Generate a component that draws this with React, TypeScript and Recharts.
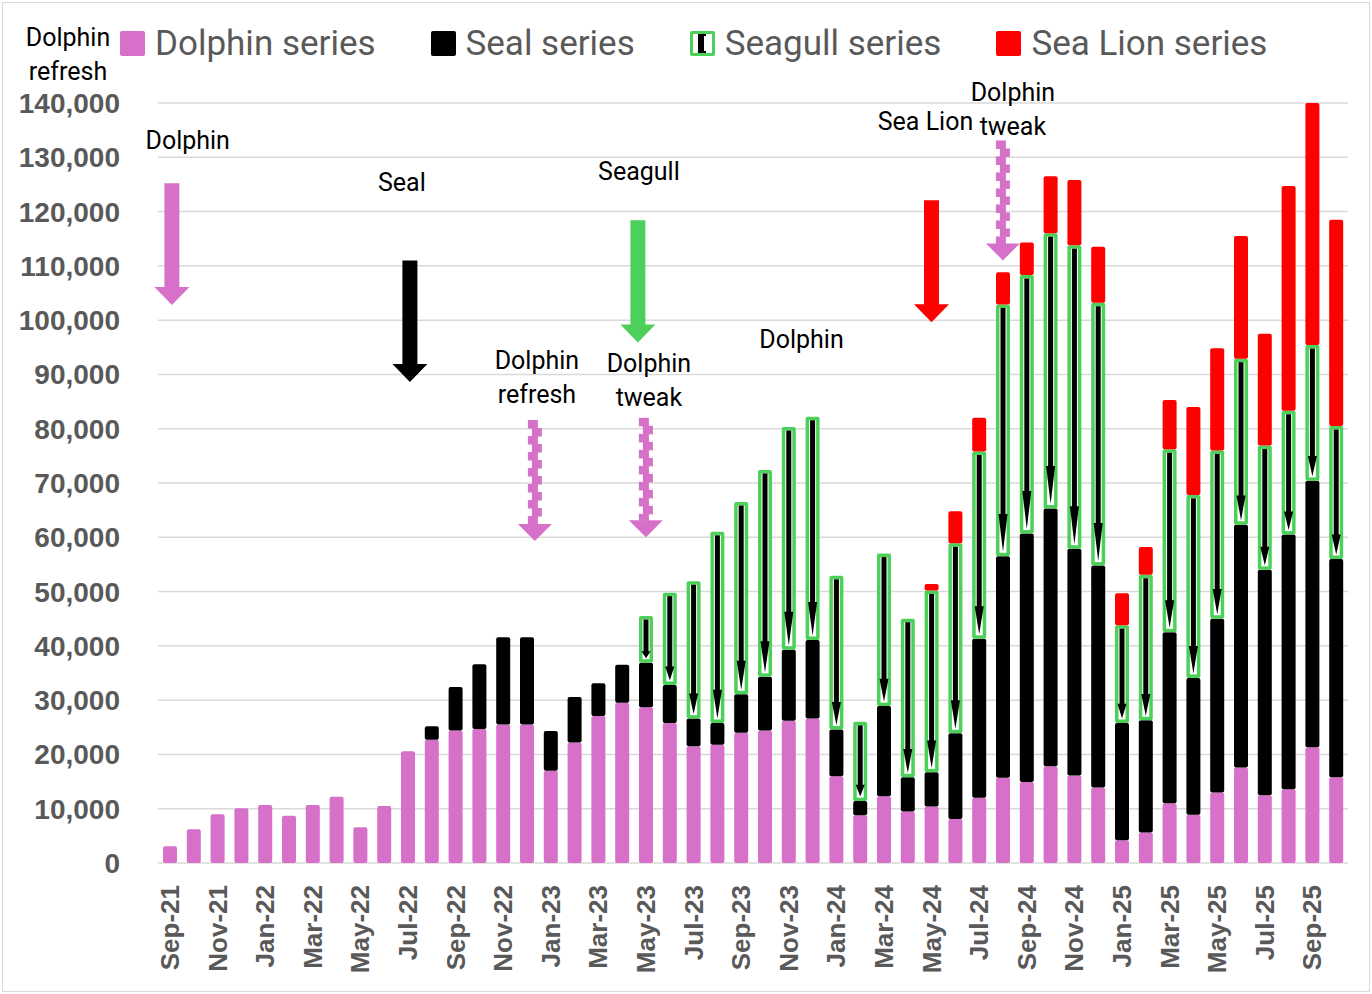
import React from "react";
import { BarChart, Bar, XAxis, YAxis, CartesianGrid, ReferenceLine, ReferenceDot } from "recharts";

const MONTHS = [
  "Sep-21", "Oct-21", "Nov-21", "Dec-21",
  "Jan-22", "Feb-22", "Mar-22", "Apr-22", "May-22", "Jun-22", "Jul-22", "Aug-22", "Sep-22", "Oct-22", "Nov-22", "Dec-22",
  "Jan-23", "Feb-23", "Mar-23", "Apr-23", "May-23", "Jun-23", "Jul-23", "Aug-23", "Sep-23", "Oct-23", "Nov-23", "Dec-23",
  "Jan-24", "Feb-24", "Mar-24", "Apr-24", "May-24", "Jun-24", "Jul-24", "Aug-24", "Sep-24", "Oct-24", "Nov-24", "Dec-24",
  "Jan-25", "Feb-25", "Mar-25", "Apr-25", "May-25", "Jun-25", "Jul-25", "Aug-25", "Sep-25", "Oct-25",
];

const DOLPHIN = [
  3100, 6200, 9000, 10100, 10700, 8700, 10700, 12200, 6600, 10500,
  20600, 22700, 24400, 24700, 25500, 25500, 17000, 22200, 27100, 29500,
  28700, 25800, 21500, 21800, 24000, 24400, 26200, 26600, 16000, 8800,
  12300, 9500, 10400, 8100, 12000, 15700, 14900, 17800, 16100, 13900,
  4200, 5600, 11000, 8900, 13000, 17600, 12500, 13600, 21300, 15800,
];

const SEAL = [
  0, 0, 0, 0, 0, 0, 0, 0, 0, 0,
  0, 2500, 8000, 11900, 16100, 16100, 7300, 8400, 6000, 7000,
  8200, 7000, 5100, 4000, 7100, 9900, 13100, 14500, 8600, 2600,
  16600, 6300, 6300, 15800, 29300, 40800, 45800, 47500, 41800, 40900,
  21600, 20700, 31500, 25200, 32000, 44700, 41500, 46900, 49100, 40200,
];

const SEAGULL = [
  0, 0, 0, 0, 0, 0, 0, 0, 0, 0,
  0, 0, 0, 0, 0, 0, 0, 0, 0, 0,
  8600, 17000, 25300, 35200, 35400, 38100, 41000, 41100, 28300, 14600,
  28100, 29200, 33500, 35000, 34500, 46400, 47600, 50700, 55900, 48400,
  18000, 26800, 33700, 33700, 31000, 30600, 22900, 22800, 25000, 24500,
];

const SEA_LION = [
  0, 0, 0, 0, 0, 0, 0, 0, 0, 0,
  0, 0, 0, 0, 0, 0, 0, 0, 0, 0,
  0, 0, 0, 0, 0, 0, 0, 0, 0, 0,
  0, 0, 1200, 5900, 6200, 5900, 6000, 10500, 12000, 10300,
  5900, 5100, 9100, 16200, 18800, 22600, 20600, 41400, 44600, 38000,
];

const Y_TICKS = [0, 10000, 20000, 30000, 40000, 50000, 60000, 70000, 80000, 90000, 100000, 110000, 120000, 130000, 140000];

const PINK = "#d670c9";
const GREEN = "#4dd05a";
const RED = "#ff0000";
const GREY = "#595959";

// annotation arrows: from (top) -> to (tip), in chart values
const ARROWS = [
  { month: "Sep-21", from: 125200, to: 102800, color: PINK, kind: "solid", dx: 2 },
  { month: "Jul-22", from: 111000, to: 88600, color: "#000000", kind: "solid", dx: 2 },
  { month: "Dec-22", from: 81600, to: 59300, color: PINK, kind: "jagged", dx: 8 },
  { month: "May-23", from: 118400, to: 95900, color: GREEN, kind: "solid", dx: -8 },
  { month: "May-23", from: 82000, to: 60000, color: PINK, kind: "jagged", dx: 0 },
  { month: "May-24", from: 122100, to: 99600, color: RED, kind: "solid", dx: 0 },
  { month: "Aug-24", from: 133100, to: 111000, color: PINK, kind: "jagged", dx: 0 },
];

const NOTES = [
  { month: "Oct-21", y: 133100, lines: ["Dolphin"], dx: -6 },
  { month: "Jul-22", y: 125400, lines: ["Seal"], dx: -6 },
  { month: "Dec-22", y: 92600, lines: ["Dolphin", "refresh"], dx: 10 },
  { month: "May-23", y: 127300, lines: ["Seagull"], dx: -7 },
  { month: "May-23", y: 92100, lines: ["Dolphin", "tweak"], dx: 3 },
  { month: "Dec-23", y: 96500, lines: ["Dolphin"], dx: -11 },
  { month: "May-24", y: 136600, lines: ["Sea Lion"], dx: -6 },
  { month: "Aug-24", y: 142000, lines: ["Dolphin", "tweak"], dx: 10 },
];

const data = MONTHS.map((month, i) => ({
  month,
  dolphin: DOLPHIN[i],
  seal: SEAL[i],
  seagull: SEAGULL[i],
  seaLion: SEA_LION[i],
}));

const noteFont = "Roboto, 'Liberation Sans', sans-serif";
const axisFont = "'Liberation Sans', Arial, sans-serif";

const SeagullBar = (props: any) => {
  const { x, y, width, height } = props;
  if (!height || height <= 0) return null;
  const b = 3.5;
  const cx = x + width / 2;
  const bot = y + height - b - 1;
  const head = Math.max(4, Math.min(38, height * 0.15));
  return (
    <g>
      <rect x={x} y={y} width={width} height={height} rx={2} fill={GREEN} />
      <rect x={x + b} y={y + b} width={width - 2 * b} height={Math.max(0, height - 2 * b)} fill="#ffffff" />
      <rect x={cx - 2.5} y={y + b} width={5} height={Math.max(0, bot - head - y - b + 1)} fill="#000000" />
      <polygon points={`${cx - 4.5},${bot - head} ${cx + 4.5},${bot - head} ${cx},${bot}`} fill="#000000" />
    </g>
  );
};

const Arrow = (props: any) => {
  const { x1, y1, y2, color, kind, dx } = props;
  const cx = x1 + (dx || 0);
  const top = Math.min(y1, y2);
  const tip = Math.max(y1, y2);
  if (kind === "solid") {
    const sw = 15, hw = 35, hh = 18;
    const neck = tip - hh;
    return (
      <path
        d={`M${cx - sw / 2},${top} H${cx + sw / 2} V${neck} H${cx + hw / 2} L${cx},${tip} L${cx - hw / 2},${neck} H${cx - sw / 2} Z`}
        fill={color}
      />
    );
  }
  const hw = 34, hh = 17, step = 8;
  const neck = tip - hh;
  const blocks: any[] = [];
  for (let yy = top, k = 0; yy < neck; yy += step, k++) {
    const off = k % 2 === 0 ? -7 : -3;
    blocks.push(
      <rect key={k} x={cx + off} y={yy} width={10} height={Math.min(step, neck - yy) + 0.5} fill={color} />
    );
  }
  return (
    <g>
      {blocks}
      <path d={`M${cx - hw / 2},${neck} H${cx + hw / 2} L${cx},${tip} Z`} fill={color} />
    </g>
  );
};

const Note = (props: any) => {
  const { cx, cy, lines, dx } = props;
  return (
    <g>
      {lines.map((t: string, k: number) => (
        <text
          key={k}
          x={cx + (dx || 0)}
          y={cy + k * 34}
          textAnchor="middle"
          dominantBaseline="central"
          fontFamily={noteFont}
          fontSize={25}
          fill="#000000"
        >
          {t}
        </text>
      ))}
    </g>
  );
};

const MonthTick = (props: any) => {
  const { x, y, payload } = props;
  return (
    <text
      x={x}
      y={y}
      transform={`rotate(-90 ${x} ${y})`}
      textAnchor="end"
      dominantBaseline="central"
      fontFamily={axisFont}
      fontWeight="bold"
      fontSize={26}
      fill={GREY}
    >
      {payload.value}
    </text>
  );
};

const LegendIcon = ({ kind, color }: { kind: string; color: string }) => (
  <svg width={25} height={25} style={{ display: "block" }}>
    {kind === "seagull" ? (
      <g>
        <rect x={0} y={0} width={25} height={25} rx={2} fill={GREEN} />
        <rect x={3} y={3} width={19} height={19} fill="#ffffff" />
        <rect x={8} y={3} width={8} height={19} fill="#000000" />
        <rect x={14} y={5} width={2} height={15} fill="#ffffff" />
      </g>
    ) : (
      <rect x={0} y={0} width={25} height={25} rx={2} fill={color} />
    )}
  </svg>
);

const LEGEND = [
  { name: "Dolphin series", kind: "box", color: PINK },
  { name: "Seal series", kind: "box", color: "#000000" },
  { name: "Seagull series", kind: "seagull", color: GREEN },
  { name: "Sea Lion series", kind: "box", color: RED },
];

export default function App() {
  return (
    <div style={{ position: "relative", width: 1372, height: 994, background: "#ffffff", overflow: "hidden" }}>
      <style>{`body{margin:0}`}</style>
      <div
        style={{
          position: "absolute",
          left: 2,
          top: 2,
          width: 1366,
          height: 988,
          border: "1px solid #d9d9d9",
          pointerEvents: "none",
        }}
      />
      <div
        style={{
          position: "absolute",
          left: 20,
          top: 21,
          width: 96,
          textAlign: "center",
          fontFamily: noteFont,
          fontSize: 25,
          lineHeight: "34px",
          color: "#000000",
        }}
      >
        Dolphin
        <br />
        refresh
      </div>
      <div
        style={{
          position: "absolute",
          left: 120,
          top: 23,
          display: "flex",
          alignItems: "center",
          fontFamily: noteFont,
          fontSize: 35,
          color: GREY,
          whiteSpace: "nowrap",
        }}
      >
        {LEGEND.map((l) => (
          <div key={l.name} style={{ display: "flex", alignItems: "center", marginRight: 55 }}>
            <LegendIcon kind={l.kind} color={l.color} />
            <span style={{ marginLeft: 10 }}>{l.name}</span>
          </div>
        ))}
      </div>
      <BarChart
        width={1372}
        height={994}
        data={data}
        margin={{ top: 103, right: 24, left: 0, bottom: 0 }}
        barSize={14}
      >
        <CartesianGrid vertical={false} stroke="#d9d9d9" strokeWidth={1.5} />
        <XAxis
          dataKey="month"
          interval={1}
          height={131}
          axisLine={false}
          tickLine={false}
          tickSize={0}
          tickMargin={22}
          tick={<MonthTick />}
        />
        <YAxis
          width={158}
          domain={[0, 140000]}
          ticks={Y_TICKS}
          axisLine={false}
          tickLine={false}
          tickSize={0}
          tickMargin={38}
          tickFormatter={(v: number) => v.toLocaleString("en-US")}
          tick={{ fontFamily: axisFont, fontWeight: "bold", fontSize: 28, fill: GREY }}
        />
        <Bar dataKey="dolphin" stackId="a" fill={PINK} radius={2} isAnimationActive={false} />
        <Bar dataKey="seal" stackId="a" fill="#000000" radius={2} isAnimationActive={false} />
        <Bar dataKey="seagull" stackId="a" fill={GREEN} shape={<SeagullBar />} isAnimationActive={false} />
        <Bar dataKey="seaLion" stackId="a" fill={RED} radius={2} isAnimationActive={false} />
        {ARROWS.map((a, k) => (
          <ReferenceLine
            key={`arrow-${k}`}
            segment={[
              { x: a.month, y: a.from },
              { x: a.month, y: a.to },
            ]}
            ifOverflow="visible"
            shape={(p: any) => <Arrow {...p} color={a.color} kind={a.kind} dx={a.dx} />}
          />
        ))}
        {NOTES.map((n, k) => (
          <ReferenceDot
            key={`note-${k}`}
            x={n.month}
            y={n.y}
            r={0}
            ifOverflow="visible"
            shape={(p: any) => <Note {...p} lines={n.lines} dx={n.dx} />}
          />
        ))}
      </BarChart>
    </div>
  );
}
